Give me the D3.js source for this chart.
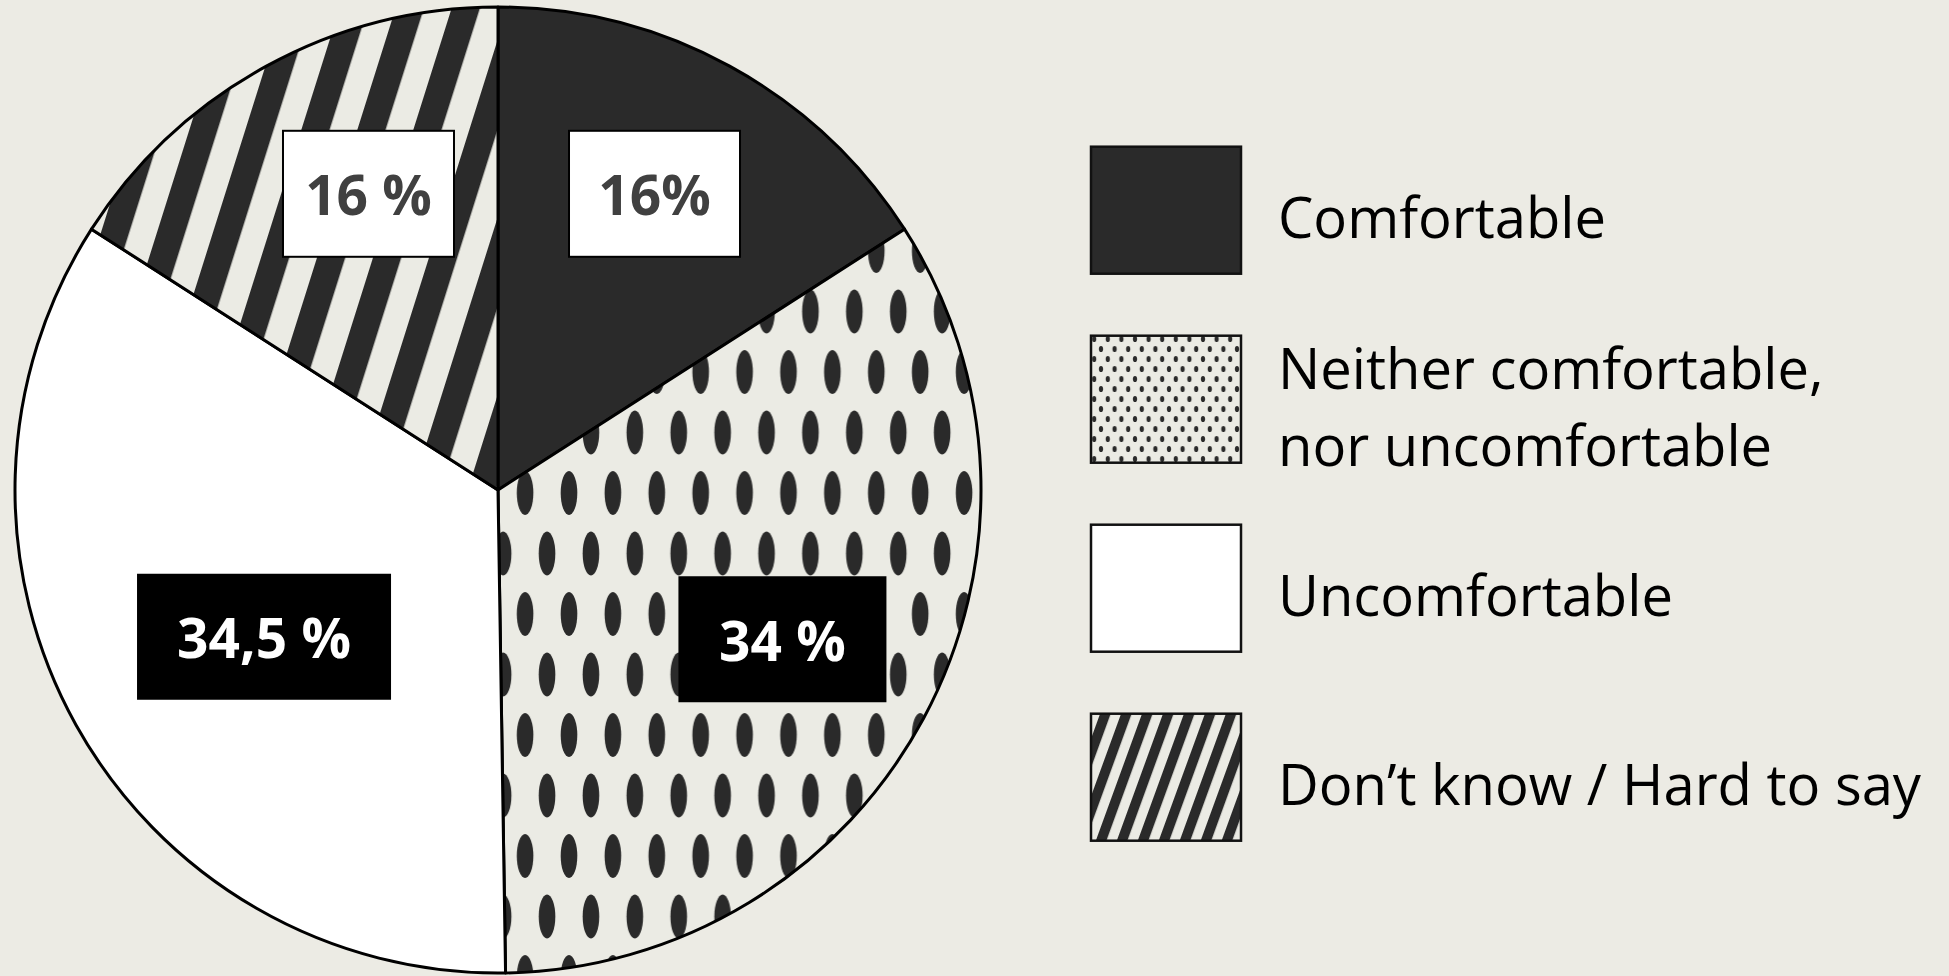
<!DOCTYPE html>
<html><head><meta charset="utf-8">
<script src="https://cdn.jsdelivr.net/npm/d3@7"></script>
<style>html,body{margin:0;padding:0;background:#ecebe4;} svg{display:block}</style>
</head><body><svg id="chart" width="1949" height="976"></svg>
<script>
// ---------- data ----------
const categories = ["Comfortable", "Neither comfortable, nor uncomfortable", "Uncomfortable", "Don’t know / Hard to say"];
const legendLines = [["Comfortable"], ["Neither comfortable,", "nor uncomfortable"], ["Uncomfortable"], ["Don’t know / Hard to say"]];
const values = [16, 34, 34.5, 16];
const valueLabels = ["16%", "34 %", "34,5 %", "16 %"];

// ---------- layout / style ----------
const W = 1949, H = 976;
const BG = "#ecebe4", DARK = "#2a2a2a", LIGHT = "#ebebe4";
const cx = 498, cy = 490, R = 483;
const fills = ["#2a2a2a", "url(#dotsPie)", "#ffffff", "url(#stripesPie)"];
const legendFills = ["#2a2a2a", "url(#dotsLeg)", "#ffffff", "url(#stripesLeg)"];
const labelBoxW = [171, 208, 254, 171], labelBoxH = 126;
const labelBoxFill = ["#ffffff", "#000000", "#000000", "#ffffff"];
const labelTextFill = ["#404040", "#ffffff", "#ffffff", "#404040"];
const labelNudge = [[-1, -8], [-5, -6], [53, -13], [28, -8]];

const svg = d3.select("#chart");
svg.append("rect").attr("width", W).attr("height", H).attr("fill", BG);
const defs = svg.append("defs");

function dotPattern(id, w, h, rx, ry, ox, oy) {
  const p = defs.append("pattern").attr("id", id).attr("patternUnits", "userSpaceOnUse")
    .attr("width", w).attr("height", h).attr("x", ox).attr("y", oy);
  p.append("rect").attr("width", w).attr("height", h).attr("fill", LIGHT);
  [[0,0],[w,0],[0,h],[w,h],[w/2,h/2]].forEach(([x,y]) =>
    p.append("ellipse").attr("cx", x).attr("cy", y).attr("rx", rx).attr("ry", ry).attr("fill", DARK));
}
function stripePattern(id, period, darkW, angle, tx, ty) {
  const p = defs.append("pattern").attr("id", id).attr("patternUnits", "userSpaceOnUse")
    .attr("width", period).attr("height", 400)
    .attr("patternTransform", `translate(${tx},${ty}) rotate(${angle})`);
  p.append("rect").attr("width", period).attr("height", 400).attr("fill", LIGHT);
  p.append("rect").attr("width", darkW).attr("height", 400).attr("fill", DARK);
}
dotPattern("dotsPie", 43.9, 121, 8.3, 22, 510, 608);
dotPattern("dotsLeg", 13.6, 20, 2.1, 3.1, 1101, 349);
stripePattern("stripesPie", 53.4, 27, 17.5, 336.7, 256.7);
stripePattern("stripesLeg", 19.7, 10, 20, 1100, 714);

// ---------- pie ----------
const pie = d3.pie().sort(null).value(d => d)(values);
const arc = d3.arc().innerRadius(0).outerRadius(R);
const labelArc = d3.arc().innerRadius(R * 0.68).outerRadius(R * 0.68);
const g = svg.append("g").attr("transform", `translate(${cx},${cy})`);
g.selectAll("path.slice").data(pie).join("path")
  .attr("class", "slice")
  .attr("d", arc)
  .attr("fill", (d, i) => fills[i])
  .attr("stroke", "#000").attr("stroke-width", 3).attr("stroke-linejoin", "round");

const lab = g.selectAll("g.lab").data(pie).join("g").attr("class", "lab")
  .attr("transform", (d, i) => {
    const [x, y] = labelArc.centroid(d);
    return `translate(${x + labelNudge[i][0]},${y + labelNudge[i][1]})`;
  });
lab.append("rect")
  .attr("x", (d, i) => -labelBoxW[i] / 2).attr("y", -labelBoxH / 2)
  .attr("width", (d, i) => labelBoxW[i]).attr("height", labelBoxH)
  .attr("fill", (d, i) => labelBoxFill[i])
  .attr("stroke", (d, i) => labelBoxFill[i] === "#ffffff" ? "#000" : "none")
  .attr("stroke-width", 2);
lab.append("text")
  .attr("text-anchor", "middle").attr("y", 21.5)
  .attr("font-family", "'Open Sans', sans-serif").attr("font-weight", 700).attr("font-size", 55)
  .attr("fill", (d, i) => labelTextFill[i])
  .text((d, i) => valueLabels[i]);

// ---------- legend ----------
const step = 189, boxH = 127, top0 = 146.7;
const legY = d3.scaleBand().domain(d3.range(categories.length))
  .range([top0, top0 + step * (categories.length - 1) + boxH])
  .paddingInner((step - boxH) / step).paddingOuter(0);
const boxX = 1091, boxW = 150, textX = 1278, lineH = 77, baseOff = 28;
const leg = svg.append("g");
const items = leg.selectAll("g").data(categories).join("g");
items.append("rect")
  .attr("x", boxX).attr("y", (d, i) => legY(i))
  .attr("width", boxW).attr("height", legY.bandwidth())
  .attr("fill", (d, i) => legendFills[i])
  .attr("stroke", "#111").attr("stroke-width", 2.5);
const texts = [];
items.each(function(d, i) {
  const lines = legendLines[i];
  const c = legY(i) + legY.bandwidth() / 2;
  lines.forEach((ln, j) => {
    const t = d3.select(this).append("text")
      .attr("x", textX)
      .attr("y", c + baseOff + (j - (lines.length - 1) / 2) * lineH)
      .attr("font-family", "'Open Sans', sans-serif").attr("font-size", 56)
      .attr("fill", "#000").text(ln);
    texts.push(t);
  });
});
// condense uniformly to Calibri-like width (longest line ~643px)
const longest = d3.max(texts, t => t.node().getComputedTextLength());
const factor = 643 / longest;
texts.forEach(t => {
  const w = t.node().getComputedTextLength();
  t.attr("textLength", w * factor).attr("lengthAdjust", "spacingAndGlyphs");
});
</script>
</body></html>
